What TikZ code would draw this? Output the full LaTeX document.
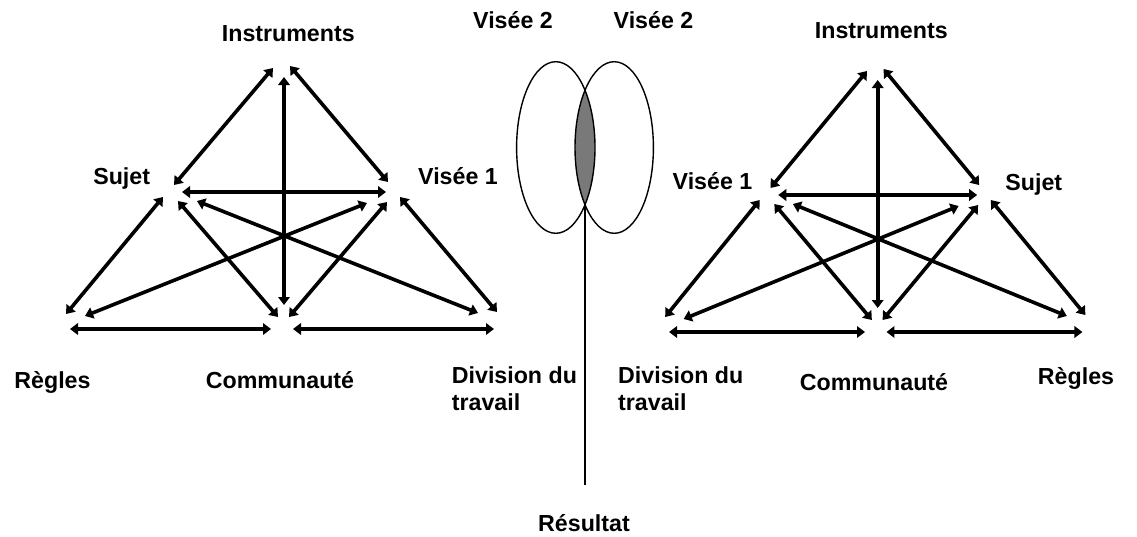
\documentclass[tikz,border=0pt]{standalone}
\usepackage{fontspec}
\setmainfont{Liberation Sans}
\usetikzlibrary{arrows.meta,shapes.geometric}

% the twelve double-headed links of one activity triangle,
% drawn in local coordinates (x measured from the central vertical)
\newcommand\activitylinks[1]{%
  \coordinate (#1-is) at (-11,68);   \coordinate (#1-si) at (-110,185);
  \coordinate (#1-ic) at (0,77);     \coordinate (#1-ci) at (0,305);
  \coordinate (#1-iv) at (6,66);     \coordinate (#1-vi) at (104,182);
  \coordinate (#1-sv) at (-102,192); \coordinate (#1-vs) at (102,192);
  \coordinate (#1-sr) at (-121,197); \coordinate (#1-rs) at (-218,314);
  \coordinate (#1-sc) at (-106,201); \coordinate (#1-cs) at (-6,317);
  \coordinate (#1-sd) at (-87,201);  \coordinate (#1-ds) at (194,313);
  \coordinate (#1-vr) at (83,203);   \coordinate (#1-rv) at (-199,316);
  \coordinate (#1-vc) at (103,202);  \coordinate (#1-cv) at (5,317);
  \coordinate (#1-vd) at (116,197);  \coordinate (#1-dv) at (213,312);
  \coordinate (#1-rc) at (-214,329); \coordinate (#1-cr) at (-13,329);
  \coordinate (#1-cd) at (9,329);    \coordinate (#1-dc) at (210,329);
  \draw[link] (#1-is) -- (#1-si);
  \draw[link] (#1-ic) -- (#1-ci);
  \draw[link] (#1-iv) -- (#1-vi);
  \draw[link] (#1-sv) -- (#1-vs);
  \draw[link] (#1-sr) -- (#1-rs);
  \draw[link] (#1-sc) -- (#1-cs);
  \draw[link] (#1-sd) -- (#1-ds);
  \draw[link] (#1-vr) -- (#1-rv);
  \draw[link] (#1-vc) -- (#1-cv);
  \draw[link] (#1-vd) -- (#1-dv);
  \draw[link] (#1-rc) -- (#1-cr);
  \draw[link] (#1-cd) -- (#1-dc);
}

\begin{document}
\begin{tikzpicture}[x=1pt,y=-1pt,
  font=\fontsize{23.2}{27}\selectfont\bfseries,
  link/.style={line width=3.6pt,
    {Triangle[length=8pt,width=11.5pt]}-{Triangle[length=8pt,width=11.5pt]}},
  lab/.style={inner sep=0pt,anchor=base},
  labl/.style={inner sep=0pt,anchor=base west,align=left},
  goal/.style={ellipse,draw,line width=1.4pt,inner sep=0pt,
    minimum width=78.4pt,minimum height=171.6pt}]

\useasboundingbox[fill=white] (0,0) rectangle (1137,536);

% left activity system
\begin{scope}[shift={(284,0)}]
  \activitylinks{L}
\end{scope}
\node[lab] (linstr) at (288.3,41.7) {Instruments};
\node[lab] (lsuj)   at (121.7,184.3) {Sujet};
\node[lab] (lvis)   at (458,184.3) {Visée 1};
\node[lab] (lreg)   at (52.5,388.3) {Règles};
\node[lab] (lcom)   at (280,388.3) {Communauté};
% base anchor of a two-line node sits on its last line
\node[labl] (ldiv)  at (451.7,410.3) {Division du\\travail};

% right activity system
\begin{scope}[shift={(877.7,3)},xscale=0.975]
  \activitylinks{R}
\end{scope}
\node[lab] (rinstr) at (881.3,38.3) {Instruments};
\node[lab] (rvis)   at (712.5,189) {Visée 1};
\node[lab] (rsuj)   at (1033.8,190) {Sujet};
\node[lab] (rreg)   at (1076,384.3) {Règles};
\node[lab] (rcom)   at (874,390.7) {Communauté};
\node[labl] (rdiv)  at (618,410.3) {Division du\\travail};

% shared object: two overlapping goals and the outcome
\begin{scope}
  \clip (555.8,147.5) ellipse [x radius=39.2,y radius=85.8];
  \fill[gray!95!black] (614.2,147.5) ellipse [x radius=39.2,y radius=85.8];
\end{scope}
\node[goal] (goall) at (555.8,147.5) {};
\node[goal] (goalr) at (614.2,147.5) {};
\node[lab] (vis2l) at (513,28.3) {Visée 2};
\node[lab] (vis2r) at (653.5,28.3) {Visée 2};

\coordinate (meet) at (585,204.7);
\coordinate (outend) at (585,485);
\draw[line width=2.3pt] (meet) -- (outend);
\node[lab] (res) at (584,531.7) {Résultat};
\end{tikzpicture}
\end{document}
